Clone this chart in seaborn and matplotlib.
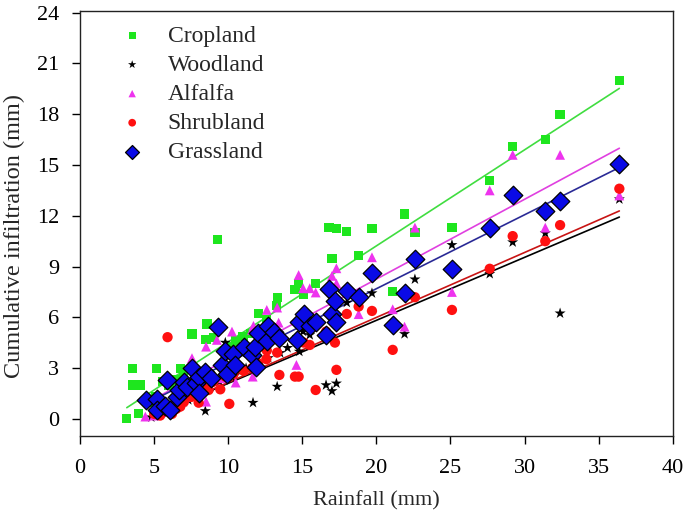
import numpy as np
import pandas as pd
import seaborn as sns
import matplotlib.pyplot as plt

# %% Data (some points sit hidden under the dense cluster)
cropland_x = [3.15, 3.94, 3.56, 4.1, 3.56, 5.18, 5.6, 6.76, 4.6, 5.1,
              6.0, 6.5, 7.0, 7.5, 7.55, 8.5, 8.56, 9.0, 9.28, 10.0,
              10.5, 11.0, 11.5, 12.05, 12.6, 13.25, 13.3, 14.5, 14.75, 15.1,
              15.9, 16.8, 17.0, 17.3, 18.0, 18.8, 19.7, 21.1, 21.9, 22.6,
              25.1, 27.65, 29.2, 31.4, 32.4, 36.4,
              5.18, 5.74, 6.08, 8.0, 9.9, 10.47, 11.6, 11.9, 12.6, 13.45,
              14.64, 15.55]
cropland_y = [0.04, 0.34, 2.0, 2.0, 3.0, 3.0, 2.2, 3.0, 1.0, 1.3,
              2.0, 2.3, 2.7, 3.0, 5.02, 4.71, 5.61, 4.8, 10.58, 4.3,
              4.6, 4.86, 5.06, 6.24, 5.89, 6.68, 7.17, 7.66, 7.98, 7.33,
              7.98, 11.3, 9.46, 11.27, 11.07, 9.65, 11.27, 7.53, 12.1, 11.0,
              11.3, 14.1, 16.1, 16.5, 18.0, 20.0,
              0.53, 0.77, 0.53, 1.51, 2.66, 3.19, 3.78, 3.05, 4.63, 4.77,
              4.67, 5.5]

woodland_x = [4.8, 5.3, 5.8, 6.2, 6.6, 7.0, 7.3, 7.8, 8.45, 8.8,
              9.4, 9.8, 10.2, 10.8, 11.2, 11.67, 12.1, 12.7, 13.3, 13.5,
              14.0, 14.8, 15.05, 15.5, 16.6, 17.0, 17.3, 18.0, 19.7, 21.9,
              22.6, 25.1, 27.65, 29.2, 31.4, 32.4, 36.4]
woodland_y = [0.1, 0.2, 0.3, 0.5, 0.7, 1.0, 1.12, 1.5, 0.47, 1.9,
              2.2, 4.51, 2.5, 2.8, 3.0, 0.96, 3.3, 3.6, 1.91, 3.9,
              4.2, 3.98, 5.16, 4.96, 2.0, 1.65, 2.1, 6.87, 7.43, 5.02,
              8.25, 10.28, 8.57, 10.44, 10.97, 6.24, 12.98]

alfalfa_x = [4.4, 5.0, 5.5, 6.0, 6.2, 6.8, 7.2, 7.55, 7.8, 8.5,
             8.5, 9.23, 9.6, 10.0, 10.25, 10.5, 11.6, 11.65, 11.7, 12.6,
             13.3, 13.4, 14.6, 14.75, 15.05, 15.5, 15.9, 17.0, 17.1, 17.3,
             17.3, 18.8, 19.7, 21.1, 21.9, 22.6, 25.1, 27.65, 29.2, 31.4,
             32.4, 36.4]
alfalfa_y = [0.14, 0.2, 0.4, 0.7, 0.9, 1.1, 1.3, 3.59, 1.6, 4.27,
             1.02, 4.67, 2.4, 2.6, 5.16, 2.15, 5.26, 2.5, 5.5, 6.44,
             6.58, 5.69, 3.19, 8.5, 7.72, 7.72, 7.47, 8.45, 7.27, 8.9,
             8.0, 6.19, 9.55, 6.48, 5.45, 11.3, 7.5, 13.5, 15.6, 11.3,
             15.6, 13.2]

shrubland_x = [5.0, 5.4, 5.8, 5.9, 6.2, 6.5, 6.76, 7.0, 7.5, 8.0,
               8.3, 8.67, 9.0, 9.46, 9.8, 10.07, 10.36, 11.04, 11.6, 12.0,
               12.57, 12.6, 13.3, 13.45, 14.5, 14.75, 15.1, 15.5, 15.9, 16.6,
               17.2, 17.3, 18.0, 18.8, 19.7, 21.1, 22.6, 25.1, 27.65, 29.2,
               31.4, 32.4, 36.4]
shrubland_y = [0.3, 0.2, 0.5, 4.83, 0.3, 0.6, 0.73, 1.0, 1.3, 0.96,
               1.9, 1.71, 2.2, 1.75, 2.5, 0.89, 2.66, 2.84, 3.0, 3.3,
               3.53, 4.04, 3.92, 2.6, 2.5, 2.5, 4.51, 4.37, 1.71, 5.16,
               4.51, 2.9, 6.2, 6.64, 6.38, 4.08, 7.19, 6.44, 8.87, 10.8,
               10.5, 11.45, 13.6]

grassland_x = [4.44, 5.18, 5.18, 5.74, 5.86, 6.08, 6.53, 6.64, 7.0, 7.2,
               7.55, 7.8, 8.0, 8.0, 8.45, 8.8, 9.28, 9.57, 9.8, 9.9,
               10.3, 10.47, 11.04, 11.6, 11.8, 11.9, 11.98, 12.6, 12.7, 13.06,
               13.45, 14.64, 14.8, 15.1, 15.55, 15.95, 16.6, 16.8, 17.0, 17.2,
               17.3, 18.0, 18.8, 19.7, 21.1, 21.9, 22.6, 25.1, 27.65, 29.2,
               31.4, 32.4, 36.4]
grassland_y = [1.12, 1.16, 0.53, 0.77, 2.3, 0.53, 1.32, 1.71, 2.2, 1.87,
               3.0, 2.1, 2.5, 1.51, 2.8, 2.4, 5.46, 3.19, 4.04, 2.66,
               3.84, 3.19, 4.27, 3.78, 4.27, 3.05, 5.06, 4.63, 5.5, 5.16,
               4.77, 4.67, 5.75, 6.2, 5.5, 5.75, 4.96, 7.66, 6.2, 6.99,
               5.7, 7.53, 7.23, 8.65, 5.55, 7.43, 9.43, 8.87, 11.27, 13.2,
               12.3, 12.85, 15.07]

land_names = ['Cropland', 'Woodland', 'Alfalfa', 'Shrubland', 'Grassland']
x_ticks = [0, 5, 10, 15, 20, 25, 30, 35, 40]
y_ticks = [0, 3, 6, 9, 12, 15, 18, 21, 24]

# %% Long table
series = {
    'Cropland': (cropland_x, cropland_y),
    'Woodland': (woodland_x, woodland_y),
    'Alfalfa': (alfalfa_x, alfalfa_y),
    'Shrubland': (shrubland_x, shrubland_y),
    'Grassland': (grassland_x, grassland_y),
}
df = pd.concat([pd.DataFrame({'rain': xs, 'infil': ys, 'land': name})
                for name, (xs, ys) in series.items()], ignore_index=True)

# marker styling per land use
point_color = {'Cropland': '#1ee61e', 'Woodland': 'black', 'Alfalfa': '#ee33ee',
               'Shrubland': '#ff1010', 'Grassland': '#0a0ae6'}
line_color = {'Cropland': '#40dd40', 'Woodland': 'black', 'Alfalfa': '#e040e0',
              'Shrubland': '#c81414', 'Grassland': '#2a2a96'}
marker = {'Cropland': 's', 'Woodland': '*', 'Alfalfa': '^', 'Shrubland': 'o', 'Grassland': 'D'}
msize = {'Cropland': 44, 'Woodland': 70, 'Alfalfa': 50, 'Shrubland': 55, 'Grassland': 90}

# %% Plot
sns.set_style("ticks")
plt.rcParams['font.family'] = ['Liberation Serif', 'DejaVu Serif']

fig = plt.figure(figsize=(6.85, 5.22), dpi=100)
ax = fig.add_axes([0.117, 0.165, 0.865, 0.814])

# regression lines below the markers
for name in land_names:
    sub = df[df['land'] == name]
    sns.regplot(data=sub, x='rain', y='infil', scatter=False, ci=None, ax=ax,
                line_kws={'color': line_color[name], 'lw': 1.2, 'zorder': 1})

for name in land_names:
    sub = df[df['land'] == name]
    ec = 'black' if name == 'Grassland' else 'none'
    sns.scatterplot(data=sub, x='rain', y='infil', marker=marker[name],
                    color=point_color[name], s=msize[name], edgecolor=ec,
                    linewidth=0.9, label=name, ax=ax, zorder=3)

ax.set_xlim(0, 40)
ax.set_ylim(-1, 24.1)
ax.set_xticks(x_ticks)
ax.set_yticks(y_ticks)
ax.tick_params(direction='out', length=6, width=1, labelsize=16, colors='black')
ax.tick_params(axis='x', pad=11)
ax.tick_params(axis='y', pad=9)
for sp in ax.spines.values():
    sp.set_visible(True)
    sp.set_color('#222222')
    sp.set_linewidth(1.0)

ax.set_xlabel("Rainfall (mm)", fontsize=16, labelpad=9)
ax.set_ylabel("Cumulative infiltration (mm)", fontsize=17.5)
ax.yaxis.set_label_coords(-0.093, 0.47)

leg = ax.legend(loc='upper left', bbox_to_anchor=(0.04, 1.0), frameon=False,
                fontsize=17, labelspacing=0.32, handletextpad=0.9, handlelength=1.2,
                markerscale=0.75, borderaxespad=0.2)

plt.savefig("out.png", dpi=100)
